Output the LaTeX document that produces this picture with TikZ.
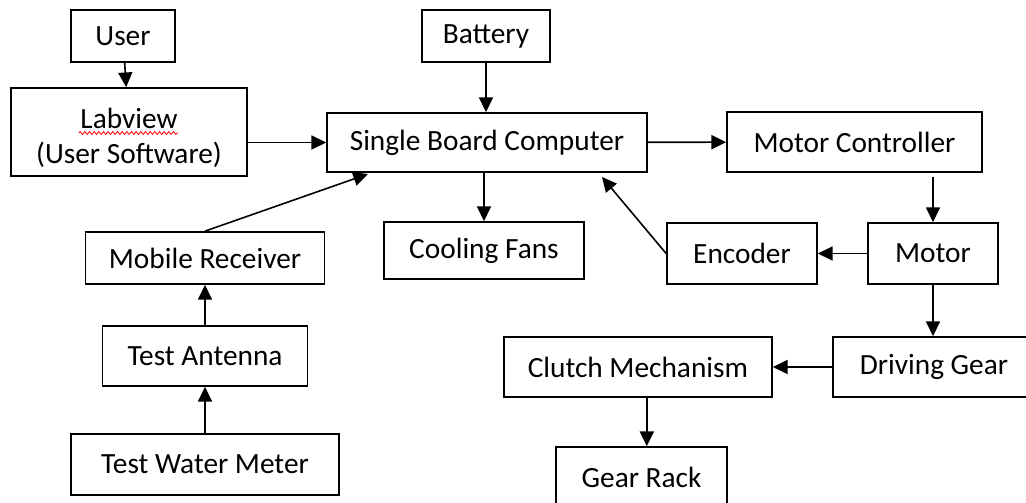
\documentclass[tikz,border=0pt]{standalone}
\usepackage{fontspec}
\setmainfont{Carlito}
\usetikzlibrary{arrows.meta,decorations.pathmorphing}

\begin{document}
\begin{tikzpicture}[x=0.75pt,y=-0.75pt,
    blk/.style={draw,line width=1.3pt,inner sep=0pt,align=center,
      font=\fontsize{22}{26}\selectfont},
    sz/.style 2 args={minimum width=#1*0.75pt,minimum height=#2*0.75pt},
    link/.style={-{Triangle[length=11pt,width=10.5pt]},line width=1.2pt}]
  \clip (0,0) rectangle (1026,503);
  % left column
  \node[blk,sz={104}{52}] (user) at (123,36) {User};
  \node[blk,sz={236}{88}] (labview) at (129,132)
    {\rule{0pt}{24pt}Labview\\(User Software)};
  \node[blk,sz={239}{52}] (mobile) at (205,258) {Mobile Receiver};
  \node[blk,sz={205}{60}] (antenna) at (205,356) {Test Antenna};
  \node[blk,sz={268}{61}] (meter) at (205,464.5) {Test Water Meter};
  % middle
  \node[blk,sz={128}{52}] (battery) at (486,36) {Battery};
  \node[blk,sz={320}{59}] (sbc) at (487,142.5) {Single Board Computer};
  \node[blk,sz={200}{57}] (fans) at (484,250.5) {Cooling Fans};
  % right side
  \node[blk,sz={255}{60}] (mc) at (854.5,142) {Motor Controller};
  \node[blk,sz={130}{61}] (motor) at (933,253.5) {Motor};
  \node[blk,sz={150}{61}] (enc) at (742,253.5) {Encoder};
  \node[blk,sz={202}{60}] (drive) at (934,367) {Driving Gear};
  \node[blk,sz={268}{60}] (clutch) at (638,367) {Clutch Mechanism};
  \node[blk,sz={171}{60}] (rack) at (641.5,477) {Gear Rack};
  \coordinate (mobin) at (368,174);
  \coordinate (encin) at (602,177);

  % spell-check squiggle
  \draw[red,line width=0.6pt,decorate,
    decoration={zigzag,amplitude=1.1pt,segment length=3.5pt}] (79,133) -- (178,133);

  \draw[link] (user) -- (labview);
  \draw[link] (labview.east |- sbc.west) -- (sbc.west);
  \draw[link] (battery) -- (battery |- sbc.north);
  \draw[link] (sbc.south -| fans.north) -- (fans);
  \draw[link] (sbc) -- (mc);
  \draw[link] ([yshift=-3pt]mc.south -| motor.north) -- (motor);
  \draw[link] (motor) -- (enc);
  \draw[link] (enc.west) -- (encin);
  \draw[link] (motor.south) -- (motor.south |- drive.north);
  \draw[link] (drive.west |- clutch.east) -- (clutch.east);
  \draw[link] ([xshift=4pt]rack.north |- clutch.south) -- ([xshift=4pt]rack.north);
  \draw[link] (meter) -- (antenna);
  \draw[link] (antenna) -- (mobile);
  \draw[link] (mobile.north) -- (mobin);
\end{tikzpicture}
\end{document}
